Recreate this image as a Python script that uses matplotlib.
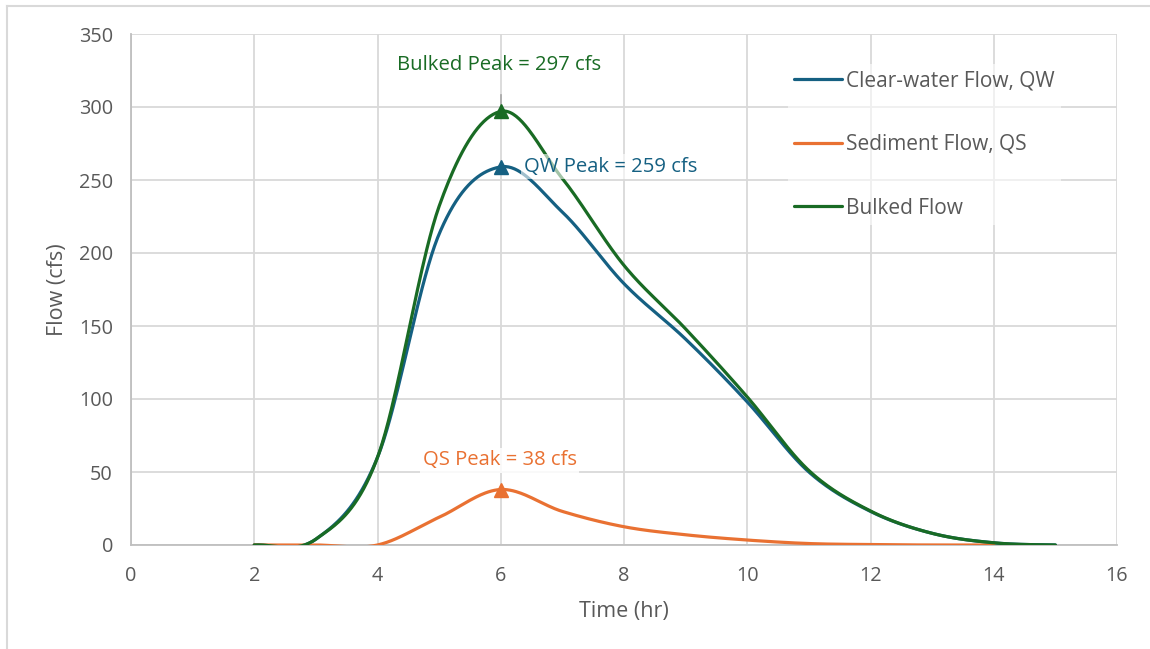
import numpy as np
import matplotlib
matplotlib.use("Agg")
import matplotlib.pyplot as plt
from matplotlib.lines import Line2D

plt.rcParams["font.family"] = ["Open Sans", "DejaVu Sans"]

# Hourly hydrograph ordinates (hr, cfs)
time_hr = [2, 3, 4, 5, 6, 7, 8, 9, 10, 11, 12, 13, 14, 15]
qw = [0, 4, 60, 213, 259, 228, 179, 141, 98, 50, 23, 8, 1.5, 0]
qs = [0, 0, 0, 19, 38, 23, 12.5, 7, 3.4, 1, 0.3, 0, 0]
bulked = [0, 4, 60, 232, 297, 251, 191.5, 148, 101.4, 51, 23.3, 8, 1.5, 0]

series_names = ["Clear-water Flow, QW", "Sediment Flow, QS", "Bulked Flow"]
series_colors = ["#156082", "#E97132", "#196B24"]
peak_labels = ["QW Peak = 259 cfs", "QS Peak = 38 cfs", "Bulked Peak = 297 cfs"]

x_ticks = [0, 2, 4, 6, 8, 10, 12, 14, 16]
y_ticks = [0, 50, 100, 150, 200, 250, 300, 350]

TEXT = "#595959"
GRID = "#D9D9D9"


def smooth(x, y, n=40):
    """Catmull-Rom curve through the points, as a smoothed spreadsheet line is drawn."""
    x = np.asarray(x, float)
    y = np.asarray(y, float)
    px = np.concatenate([[2 * x[0] - x[1]], x, [2 * x[-1] - x[-2]]])
    py = np.concatenate([[y[0]], y, [y[-1]]])
    t = np.linspace(0, 1, n, endpoint=False)
    t2, t3 = t * t, t * t * t
    xs, ys = [], []
    for i in range(1, len(px) - 2):
        def cr(p):
            return 0.5 * ((2 * p[i]) + (-p[i - 1] + p[i + 1]) * t +
                          (2 * p[i - 1] - 5 * p[i] + 4 * p[i + 1] - p[i + 2]) * t2 +
                          (-p[i - 1] + 3 * p[i] - 3 * p[i + 1] + p[i + 2]) * t3)
        xs.append(cr(px))
        ys.append(cr(py))
    xs.append([x[-1]])
    ys.append([y[-1]])
    return np.concatenate(xs), np.concatenate(ys)


fig = plt.figure(figsize=(11.5, 6.49), dpi=100)
ax = fig.add_axes([131 / 1150, 1 - 545 / 649, (1117 - 131) / 1150, (545 - 34) / 649])

series = [qw, qs, bulked]
handles = []
for vals, name, col in zip(series, series_names, series_colors):
    sx, sy = smooth(time_hr[:len(vals)], vals)
    ln, = ax.plot(sx, sy, color=col, lw=2.3, solid_capstyle="round", label=name, zorder=3)
    handles.append(ln)

# peak markers
for vals, col in zip(series, series_colors):
    k = int(np.argmax(vals))
    ax.plot(time_hr[k], vals[k], marker="^", ms=10, color=col, zorder=4, linestyle="none")

# leader line above the bulked peak
kb = int(np.argmax(bulked))
ax.plot([time_hr[kb], time_hr[kb]], [bulked[kb], bulked[kb] + 11], color="#A6A6A6", lw=1.2, zorder=2)

ax.text(time_hr[kb] - 0.02, 329, peak_labels[2], color=series_colors[2], fontsize=14.6,
        ha="center", va="center", zorder=5)
kw = int(np.argmax(qw))
ax.text(time_hr[kw] + 0.37, qw[kw], peak_labels[0], color=series_colors[0], fontsize=14.6,
        ha="left", va="center", zorder=5,
        bbox=dict(boxstyle="square,pad=0.12", facecolor="white", edgecolor="none", alpha=0.6))
ks = int(np.argmax(qs))
ax.text(time_hr[ks] - 0.02, 58, peak_labels[1], color=series_colors[1], fontsize=14.6,
        ha="center", va="center", zorder=5,
        bbox=dict(boxstyle="square,pad=0.12", facecolor="white", edgecolor="none", alpha=0.85))

ax.set_xlim(0, 16)
ax.set_ylim(0, 350)
ax.set_xticks(x_ticks)
ax.set_yticks(y_ticks)
ax.grid(True, color=GRID, lw=1.3, zorder=0)
ax.set_axisbelow(True)
for s in ["top", "right"]:
    ax.spines[s].set_visible(False)
for s in ["left", "bottom"]:
    ax.spines[s].set_color("#BFBFBF")
    ax.spines[s].set_linewidth(1.3)
ax.tick_params(axis="x", length=0, labelsize=14.3, labelcolor=TEXT, pad=15)
ax.tick_params(axis="y", length=0, labelsize=14.3, labelcolor=TEXT, pad=13)
ax.set_xlabel("Time (hr)", fontsize=15.5, color=TEXT, labelpad=11)
ax.set_ylabel("Flow (cfs)", fontsize=15.5, color=TEXT, labelpad=8)

leg = ax.legend(handles=handles, loc="upper left", bbox_to_anchor=(788 / 1150, 1 - 64 / 649),
                bbox_transform=fig.transFigure, fontsize=15, frameon=True, framealpha=0.6,
                edgecolor="none", facecolor="white", labelspacing=2.05, handlelength=2.3,
                handletextpad=0.2, borderpad=0.3, borderaxespad=0)
for t in leg.get_texts():
    t.set_color(TEXT)

# chart area border
fig.add_artist(Line2D([7 / 1150, 1.0], [1 - 6 / 649, 1 - 6 / 649], color="#D9D9D9", lw=1.5,
                      transform=fig.transFigure))
fig.add_artist(Line2D([7 / 1150, 7 / 1150], [0, 1 - 6 / 649], color="#D9D9D9", lw=1.5,
                      transform=fig.transFigure))

fig.savefig("out.png", dpi=100, facecolor="white")
